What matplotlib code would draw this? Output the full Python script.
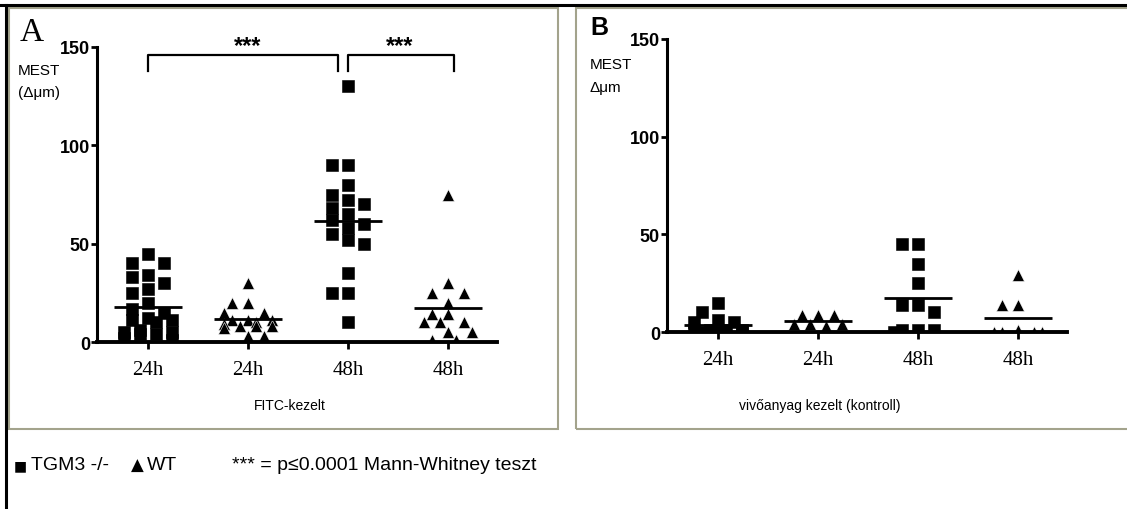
import matplotlib.pyplot as plt
import numpy as np
from matplotlib.patches import Rectangle
from matplotlib.lines import Line2D

# values (MEST, delta um)
categories = ['24h', '24h', '48h', '48h']
markers = ['s', '^', 's', '^']   # TGM3 -/- squares, WT triangles

fitc_tgm3_24 = [45, 40, 40, 34, 33, 30, 27, 25, 20, 17, 15, 12, 11, 11, 10, 6, 5, 5, 4, 4, 2, 1]
fitc_wt_24 = [30, 20, 20, 15, 15, 11, 11, 11, 10, 9, 8, 8, 8, 7, 3, 3]
fitc_tgm3_48 = [130, 90, 90, 80, 75, 72, 70, 68, 65, 62, 60, 58, 55, 52, 50, 35, 25, 25, 10]
fitc_wt_48 = [75, 30, 25, 25, 20, 14, 14, 10, 10, 10, 5, 5, 1, 1]

ctrl_tgm3_24 = [15, 10, 6, 5, 5, 1, 1, 1, 1, 0, 0, 0]
ctrl_wt_24 = [8.5, 8.5, 8.5, 4, 4, 4, 3]
ctrl_tgm3_48 = [45, 45, 35, 25, 14, 14, 10, 1, 1, 1, 0]
ctrl_wt_48 = [29, 14, 14, 1, 0, 0, 0, 0]

yticks = [0, 50, 100, 150]

W, H = 1127, 510
plt.rcParams['font.family'] = ['Liberation Sans', 'DejaVu Sans']
fig = plt.figure(figsize=(W / 100, H / 100), dpi=100)
fig.patch.set_facecolor('white')


def fx(x):
    return x / W


def fy(y):
    return 1 - y / H


def swarm(ax, x0, vals, sep=16, vsep=11, step=8, maxoff=26):
    # column scatter in pixel space, width limited, overlap allowed when crowded
    pts = ax.transData.transform(np.column_stack([np.full(len(vals), x0), vals]))
    ys = pts[:, 1]
    placed = []
    off = np.zeros(len(vals))
    cands = [0]
    k = 1
    while k * step <= maxoff:
        cands += [-k * step, k * step]
        k += 1
    for i in np.argsort(-np.asarray(vals), kind='stable'):
        best, best_score = 0, None
        for c in cands:
            score = sum(max(0, sep - abs(c - px)) * max(0, vsep - abs(ys[i] - py))
                        for px, py in placed)
            if best_score is None or score < best_score - 1e-9:
                best, best_score = c, score
        placed.append((best, ys[i]))
        off[i] = best
    unit = ax.transData.transform([[1, 0]])[0, 0] - ax.transData.transform([[0, 0]])[0, 0]
    return x0 + off / unit


def panel(ax, groups):
    ax.set_xlim(0.49, 4.49)
    ax.set_ylim(0, 150)
    for s in ['top', 'right']:
        ax.spines[s].set_visible(False)
    ax.spines['left'].set_linewidth(2.2)
    ax.spines['bottom'].set_linewidth(2.8)
    ax.spines['left'].set_capstyle('projecting')
    ax.spines['bottom'].set_capstyle('projecting')
    ax.spines['bottom'].set_zorder(5)
    ax.set_yticks(yticks)
    ax.set_yticklabels([str(t) for t in yticks], fontsize=13, fontweight='bold')
    ax.set_xticks(range(1, 5))
    ax.set_xticklabels(categories, fontsize=15, family='Liberation Serif')
    ax.tick_params(axis='y', length=4, width=2, pad=1)
    ax.tick_params(axis='x', length=5, width=2, pad=8)
    for i, (vals, m) in enumerate(zip(groups, markers)):
        x0 = i + 1
        xs = swarm(ax, x0, vals, sep=16 if m == 's' else 15)
        ax.plot(xs, vals, ls='none', marker=m, ms=8.6, color='black',
                mec='white' if m == '^' else 'black', mew=0.4, zorder=3)
        ax.hlines(np.mean(vals), x0 - 0.34, x0 + 0.34, color='black', lw=2, zorder=4)


axA = fig.add_axes([fx(97), fy(343), 400 / W, 295 / H])
axB = fig.add_axes([fx(667), fy(333), 400 / W, 293 / H])
panel(axA, [fitc_tgm3_24, fitc_wt_24, fitc_tgm3_48, fitc_wt_48])
panel(axB, [ctrl_tgm3_24, ctrl_wt_24, ctrl_tgm3_48, ctrl_wt_48])

# significance brackets
axA.plot([1, 1, 2.9, 2.9], [138, 146, 146, 138], color='black', lw=1.6, clip_on=False)
axA.plot([3.0, 3.0, 4.06, 4.06], [138, 146, 146, 138], color='black', lw=1.6, clip_on=False)
axA.text(2.0, 151, '***', ha='center', va='center', fontsize=17, fontweight='bold')
axA.text(3.52, 151, '***', ha='center', va='center', fontsize=17, fontweight='bold')

# panel frames and outer frame
fig.add_artist(Rectangle((fx(9), fy(430)), (558 - 9) / W, (430 - 9) / H, transform=fig.transFigure,
                         fill=False, edgecolor='#a3a38c', lw=1.5))
fig.add_artist(Rectangle((fx(576), fy(430)), (1140 - 576) / W, (430 - 9) / H, transform=fig.transFigure,
                         fill=False, edgecolor='#a3a38c', lw=1.5))
fig.add_artist(Line2D([0, 1], [fy(6), fy(6)], transform=fig.transFigure, color='black', lw=2.2))
fig.add_artist(Line2D([fx(6), fx(6)], [fy(6), 0], transform=fig.transFigure, color='black', lw=2.2))

# panel texts
fig.text(fx(20), fy(33), 'A', fontsize=24, family='Liberation Serif', va='center')
fig.text(fx(18), fy(71), 'MEST', fontsize=11, va='center')
fig.text(fx(18), fy(93), '(Δμm)', fontsize=11, va='center')
fig.text(fx(290), fy(406), 'FITC-kezelt', fontsize=10, ha='center', va='center')

fig.text(fx(590), fy(28), 'B', fontsize=18, fontweight='bold', va='center')
fig.text(fx(590), fy(65), 'MEST', fontsize=11, va='center')
fig.text(fx(590), fy(88), 'Δμm', fontsize=11, va='center')
fig.text(fx(820), fy(406), 'vivőanyag kezelt (kontroll)', fontsize=10, ha='center', va='center')

# legend line at the bottom
fig.text(fx(14), fy(466), '■', fontsize=10, va='center', family=['DejaVu Sans'])
fig.text(fx(31), fy(466), 'TGM3 -/-', fontsize=14, va='center')
fig.text(fx(131), fy(466), '▲', fontsize=12, va='center', family=['DejaVu Sans'])
fig.text(fx(147), fy(466), 'WT', fontsize=14, va='center')
fig.text(fx(232), fy(466), '*** = p≤0.0001 Mann-Whitney teszt', fontsize=14, va='center')

plt.savefig('out.png', dpi=100)
